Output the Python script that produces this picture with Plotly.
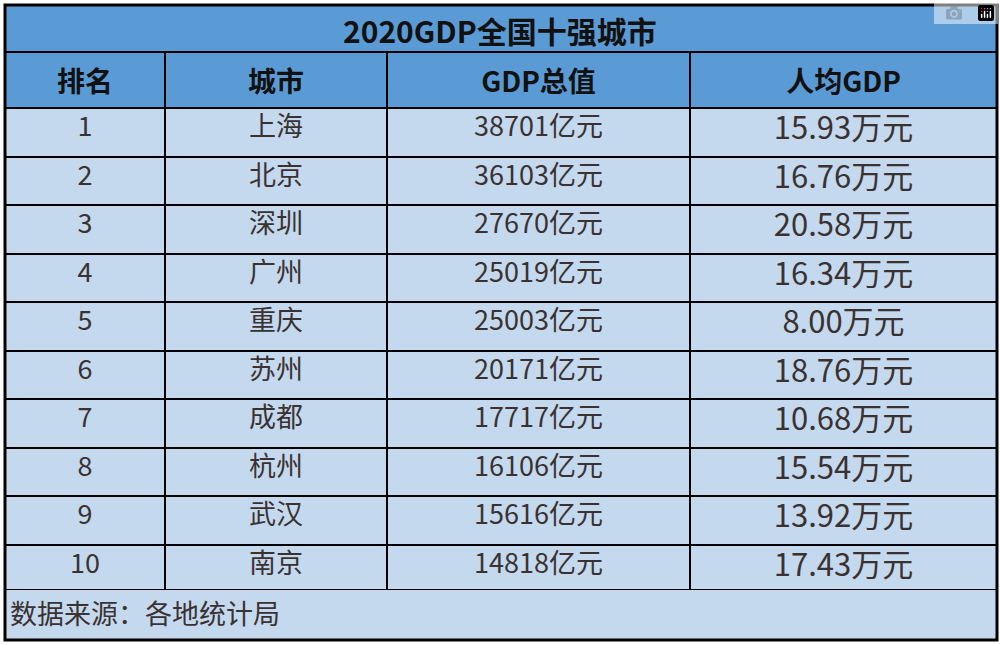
import plotly.graph_objects as go

title = "2020GDP全国十强城市"
headers = ["排名", "城市", "GDP总值", "人均GDP"]
ranks = [str(i) for i in range(1, 11)]
cities = ["上海", "北京", "深圳", "广州", "重庆", "苏州", "成都", "杭州", "武汉", "南京"]
gdp = [38701, 36103, 27670, 25019, 25003, 20171, 17717, 16106, 15616, 14818]
per_capita = [15.93, 16.76, 20.58, 16.34, 8.00, 18.76, 10.68, 15.54, 13.92, 17.43]
footer = "数据来源：各地统计局"

W, H = 1000, 645
FONT = "Noto Sans CJK SC"
DARK = "#5b9bd5"
LIGHT = "#c5d9ee"
TXT = "#3a3232"

def py(px):
    return 1 - px / H

fig = go.Figure(go.Table(
    domain=dict(x=[5 / W, 997 / W], y=[py(589), py(52)]),
    columnwidth=[160, 222, 303, 307],
    header=dict(values=[f"<b>{h}</b>" for h in headers], fill_color=DARK,
                line=dict(color="black", width=2), align="center", height=51,
                font=dict(family=FONT, size=28, color="#111")),
    cells=dict(values=[ranks, cities, [f"{v}亿元" for v in gdp],
                       [f"{v:.2f}万元" for v in per_capita]],
               fill_color=LIGHT, line=dict(color="black", width=2), align="center",
               height=48.5, font=dict(family=FONT, size=[27, 27, 27, 31], color=TXT)),
))
fig.add_shape(type="rect", xref="paper", yref="paper", x0=5 / W, x1=997 / W,
              y0=py(52), y1=py(5), fillcolor=DARK, line=dict(color="black", width=2), layer="below")
fig.add_shape(type="rect", xref="paper", yref="paper", x0=5 / W, x1=997 / W,
              y0=py(640), y1=py(589), fillcolor=LIGHT, line=dict(color="black", width=2), layer="below")
fig.add_shape(type="rect", xref="paper", yref="paper", x0=5 / W, x1=997 / W,
              y0=py(640), y1=py(5), line=dict(color="black", width=3))
fig.add_annotation(text="<b>" + title + "</b>", xref="paper", yref="paper", x=0.5, y=py(30), showarrow=False,
                   font=dict(family=FONT, size=30, color="#111"), xanchor="center", yanchor="middle")
fig.add_annotation(text=footer, xref="paper", yref="paper", x=8 / W, y=py(612), showarrow=False,
                   font=dict(family=FONT, size=27, color=TXT), xanchor="left", yanchor="middle")
fig.update_layout(width=W, height=H, margin=dict(l=0, r=0, t=0, b=0),
                  paper_bgcolor="white", plot_bgcolor="white")
fig.write_html("out.html", post_script="document.body.style.margin='0';document.body.style.overflow='hidden';")
